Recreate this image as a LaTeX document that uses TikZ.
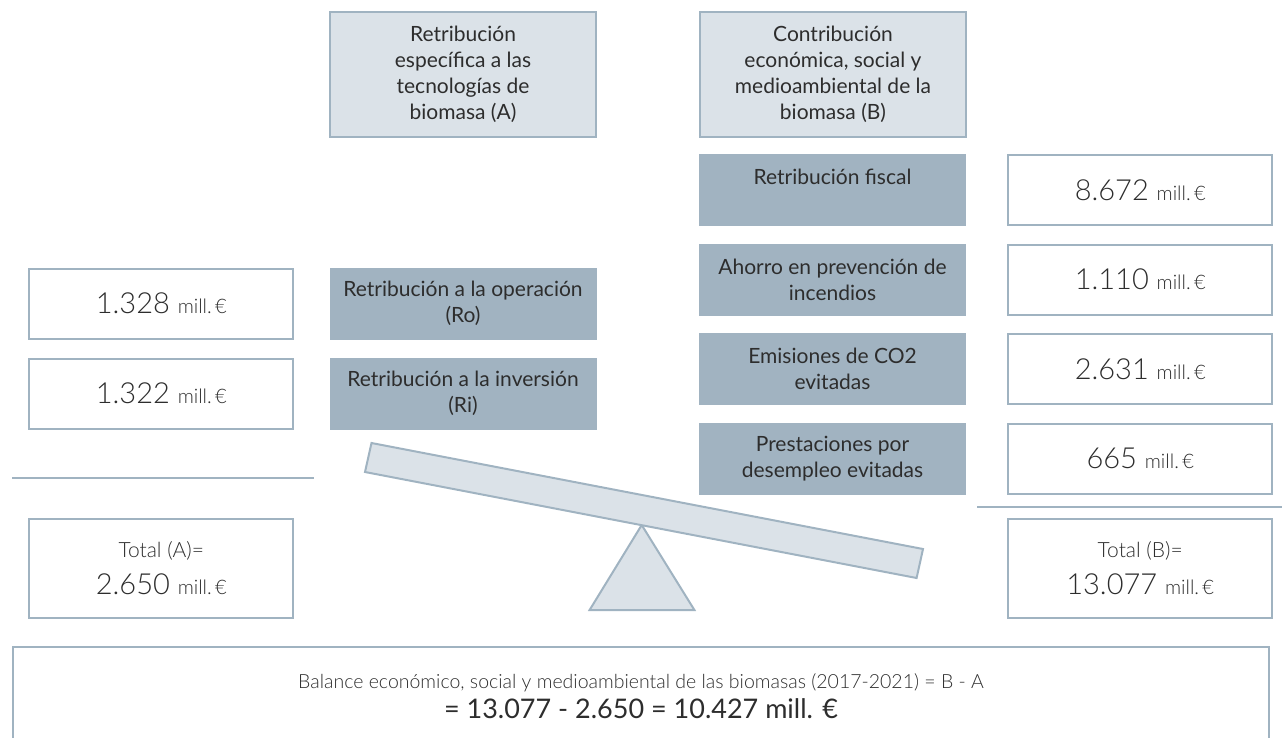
\documentclass[tikz,border=0pt]{standalone}
\usepackage{fontspec}
\setmainfont{Lato}
\newfontfamily\lightfont{Lato}[UprightFont=*-Light]
\usepackage{tikz}
\usetikzlibrary{positioning}
\definecolor{MyLight}{RGB}{219,226,232}
\definecolor{MyDark}{RGB}{161,179,193}
\definecolor{MyLine}{RGB}{160,179,193}
\definecolor{MyText}{RGB}{45,45,45}
\newcommand{\millEur}{{\fontsize{20}{24}\selectfont mill.\,€}}

\begin{document}
\begin{tikzpicture}[x=1pt, y=-1pt, every node/.style={text=MyText}]
	\tikzstyle{head} = [draw=MyLine, line width=1.5pt, fill=MyLight, minimum width=266pt, minimum height=125pt, align=center, font=\fontsize{21}{26}\selectfont]
	\tikzstyle{item} = [fill=MyDark, minimum width=267pt, minimum height=72pt, align=center, font=\fontsize{21}{26}\selectfont]
	\tikzstyle{val} = [draw=MyLine, line width=2pt, fill=white, minimum width=264pt, minimum height=70pt, font=\lightfont\fontsize{29}{34}\selectfont]
	\tikzstyle{tot} = [val, minimum height=99pt, align=center, font=\lightfont\fontsize{29}{37}\selectfont]
	\tikzstyle{sep} = [draw=MyLine, line width=2pt]
	\useasboundingbox (0,0) rectangle (1282,737);

	\node[head] (retA) at (463,74.5) {Retribución\\específica a las\\tecnologías de\\biomasa (A)};
	\node[head] (conB) at (833,74.5) {Contribución\\económica, social y\\medioambiental de la\\biomasa (B)};

	\node[item] (fis) at (832.5,190) {Retribución fiscal\\\phantom{x}};
	\node[item, node distance=89.5pt] (inc) [below of=fis] {Ahorro en prevención de\\incendios};
	\node[item, node distance=89.5pt] (co2) [below of=inc] {Emisiones de CO2\\evitadas};
	\node[item, node distance=89.5pt] (des) [below of=co2] {Prestaciones por\\desempleo evitadas};

	\node[item] (ro) at (463,303.5) {Retribución a la operación\\(Ro)};
	\node[item, node distance=90pt] (ri) [below of=ro] {Retribución a la inversión\\(Ri)};

	\node[val, right=41pt of fis] (vfis) {8.672 \millEur};
	\node[val, right=41pt of inc] (vinc) {1.110 \millEur};
	\node[val, right=41pt of co2] (vco2) {2.631 \millEur};
	\node[val, right=41pt of des] (vdes) {665 \millEur};

	\node[val, left=35pt of ro] (vro) {1.328 \millEur};
	\node[val, left=35pt of ri] (vri) {1.322 \millEur};

	\node[tot, node distance=175pt] (totA) [below of=vri] {{\fontsize{21}{26}\selectfont Total (A)=}\\2.650 \millEur};
	\node[tot, node distance=110pt] (totB) [below of=vdes] {{\fontsize{21}{26}\selectfont Total (B)=}\\13.077 \millEur};

	\draw[sep] (12,478) -- (314,478);
	\draw[sep] (977,507) -- (1282,507);

	\draw[MyLine, line width=2pt, fill=MyLight] (641.7,525) -- (589.6,610) -- (694.4,610) -- cycle;
	\draw[MyLine, line width=2pt, fill=MyLight] (371.5,443) -- (923,549) -- (916.6,578) -- (365,472) -- cycle;

	\node[draw=MyLine, line width=2pt, minimum width=1256pt, minimum height=98pt, align=center] (bal) at (641,696)
		{{\lightfont\fontsize{19.5}{24}\selectfont Balance económico, social y medioambiental de las biomasas (2017-2021) = B - A}\\[5pt]
		{\fontsize{27}{32}\selectfont = 13.077 - 2.650 = 10.427 mill. €}};
\end{tikzpicture}
\end{document}
